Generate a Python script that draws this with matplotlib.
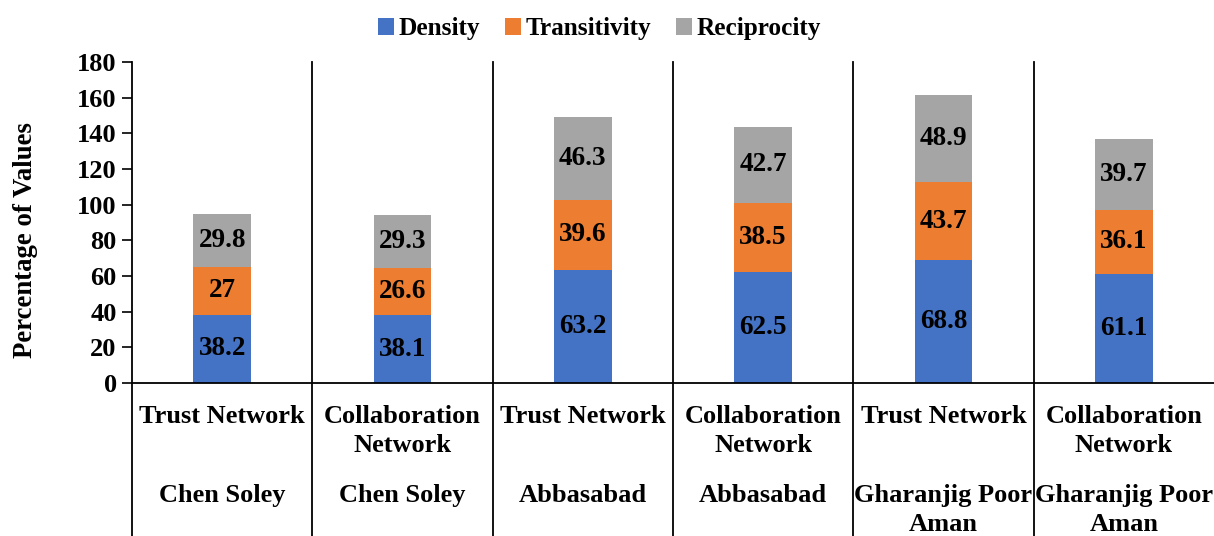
import numpy as np
import matplotlib.pyplot as plt

plt.rcParams['font.family'] = 'serif'
plt.rcParams['font.serif'] = ['Liberation Serif', 'DejaVu Serif']
plt.rcParams['font.weight'] = 'bold'

networks = ['Trust Network', 'Collaboration\nNetwork', 'Trust Network',
            'Collaboration\nNetwork', 'Trust Network', 'Collaboration\nNetwork']
villages = ['Chen Soley', 'Chen Soley', 'Abbasabad', 'Abbasabad',
            'Gharanjig Poor\nAman', 'Gharanjig Poor\nAman']
density = [38.2, 38.1, 63.2, 62.5, 68.8, 61.1]
transitivity = [27, 26.6, 39.6, 38.5, 43.7, 36.1]
reciprocity = [29.8, 29.3, 46.3, 42.7, 48.9, 39.7]

series = [('Density', density, '#4472C4'),
          ('Transitivity', transitivity, '#ED7D31'),
          ('Reciprocity', reciprocity, '#A5A5A5')]

fig = plt.figure(figsize=(12.14, 5.36), dpi=100)
ax = fig.add_axes([132/1214, 1-383/536, 1-132/1214, 321/536])

x = np.arange(len(density))
bottom = np.zeros(len(x))
for name, vals, col in series:
    vals = np.array(vals, dtype=float)
    ax.bar(x, vals, 0.32, bottom=bottom, color=col, label=name)
    for xi, b, v in zip(x, bottom, vals):
        ax.text(xi, b + v/2, f'{v:g}', ha='center', va='center',
                fontsize=19.5, fontweight='bold', color='black')
    bottom += vals

ax.set_xlim(-0.5, 5.5)
ax.set_ylim(0, 180)
ax.set_yticks(range(0, 181, 20))
ax.tick_params(axis='y', labelsize=19, length=7, width=1.2, pad=4)
ax.tick_params(axis='x', length=0)
ax.set_xticks([])
for lab in ax.get_yticklabels():
    lab.set_fontweight('bold')
ax.set_ylabel('Percentage of Values', fontsize=19.3, fontweight='bold')
ax.yaxis.set_label_coords(-0.087, 0.445)

for s in ['top', 'right']:
    ax.spines[s].set_visible(False)
ax.spines['left'].set_visible(False)
ax.spines['bottom'].set_linewidth(1.3)

tr = ax.get_xaxis_transform()
for b in np.arange(-0.5, 5.0, 1.0):
    ax.plot([b, b], [1, -0.5], transform=tr, color='black', lw=1.3, clip_on=False)

for xi, n, v in zip(x, networks, villages):
    ax.text(xi, -0.07, n, transform=tr, ha='center', va='top', fontsize=19,
            fontweight='bold', linespacing=1.3)
    ax.text(xi, -0.316, v, transform=tr, ha='center', va='top', fontsize=19,
            fontweight='bold', linespacing=1.3)

fig.legend(loc='upper center', bbox_to_anchor=(0.494, 1.01), ncol=3, frameon=False,
           fontsize=18.2, handlelength=0.6, handleheight=0.6, handletextpad=0.2,
           columnspacing=1.0)

fig.savefig('out.png', dpi=100)
